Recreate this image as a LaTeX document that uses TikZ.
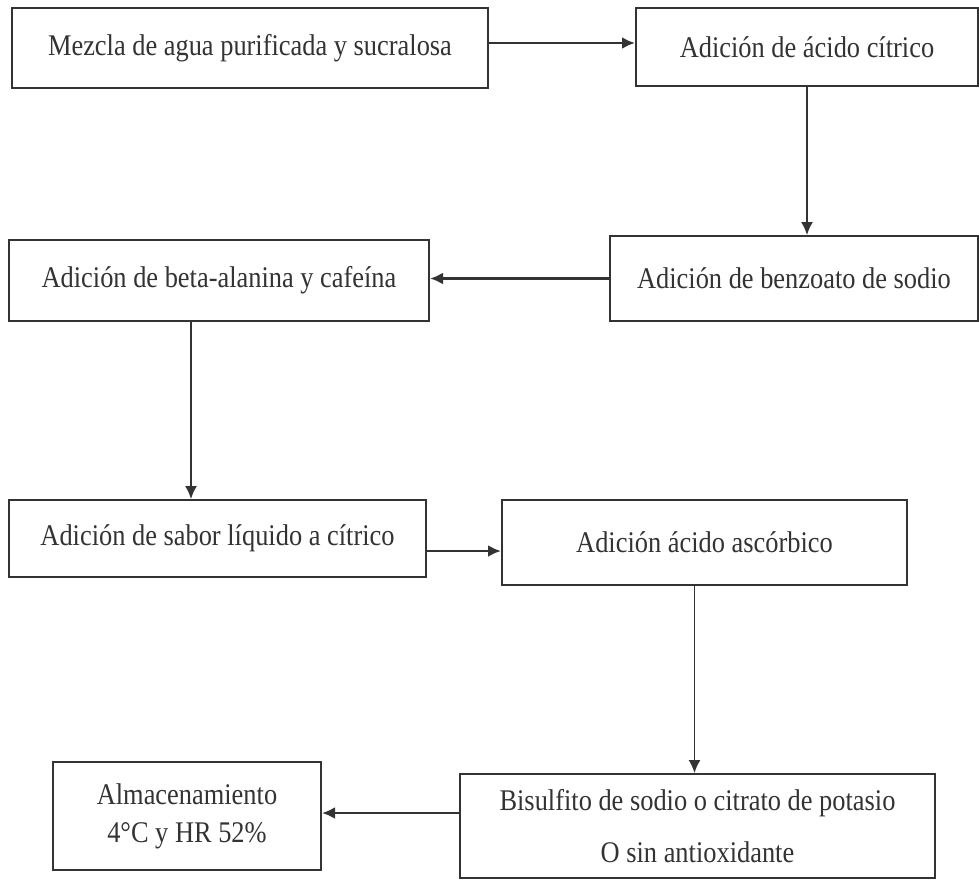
\documentclass[tikz,border=0pt]{standalone}
\usepackage{fontspec}
\setmainfont{Liberation Serif}[FakeStretch=0.88]
\usetikzlibrary{arrows.meta,positioning}

\definecolor{inkgray}{HTML}{333333}

\begin{document}
\begin{tikzpicture}[
    -{Latex[length=13pt,width=12pt]},
    x=1pt, y=1pt,
    stage node/.style={draw=inkgray,line width=2pt,text=inkgray,
      font=\fontsize{30}{32}\selectfont,align=center,inner sep=0pt},
    flow/.style={draw=inkgray,line width=2.6pt},
    thin flow/.style={draw=inkgray,line width=1.6pt}]

  \fill[white,-] (0,0) rectangle (979,-872);

  \node[stage node,anchor=north west,minimum width=476pt,minimum height=80pt] (mezcla) at (11,-7) {Mezcla de agua purificada y sucralosa};
  \node[stage node,minimum width=342pt,minimum height=78pt] (acido) [right=146pt of mezcla.north east,anchor=north west] {Adición de ácido cítrico};
  \node[stage node,minimum width=368pt,minimum height=85pt] (benzoato) [below=148pt of acido.south east,anchor=north east] {Adición de benzoato de sodio};
  \node[stage node,minimum width=420pt,minimum height=81pt] (beta) [left=179pt of benzoato.south west,anchor=south east] {Adición de beta-alanina y cafeína};
  \node[stage node,minimum width=417pt,minimum height=77pt] (sabor) [below=177pt of beta.south west,anchor=north west] {Adición de sabor líquido a cítrico};
  \node[stage node,minimum width=405pt,minimum height=85pt] (ascorbico) [right=74pt of sabor.north east,anchor=north west] {Adición ácido ascórbico};
  \node[stage node,minimum width=475pt,minimum height=104pt] (bisulfito) [below=187pt of ascorbico.south,anchor=north,xshift=-7pt] {Bisulfito de sodio o citrato de potasio\\[20pt]O sin antioxidante};
  \node[stage node,minimum width=268pt,minimum height=108pt] (almacen) [left=137pt of bisulfito.north west,anchor=north east,yshift=12pt] {Almacenamiento\\[6pt]4°C y HR 52\%};

  \path
    ([yshift=5pt]mezcla.east)
         edge[flow] ([yshift=5pt]mezcla.east -| acido.west)
    (acido.south)
         edge[thin flow] (acido.south |- benzoato.north)
    (benzoato.west)
         edge[flow] (benzoato.west -| beta.east)
    ([xshift=-28pt]beta.south)
         edge[thin flow] ([xshift=-28pt]beta.south |- sabor.north)
    ([yshift=-12.5pt]sabor.east)
         edge[flow] ([yshift=-12.5pt]sabor.east -| ascorbico.west)
    ([xshift=-10pt]ascorbico.south)
         edge[thin flow] ([xshift=-10pt]ascorbico.south |- bisulfito.north)
    ([yshift=3pt]almacen.east -| bisulfito.west)
         edge[flow] ([yshift=3pt]almacen.east);
\end{tikzpicture}
\end{document}
